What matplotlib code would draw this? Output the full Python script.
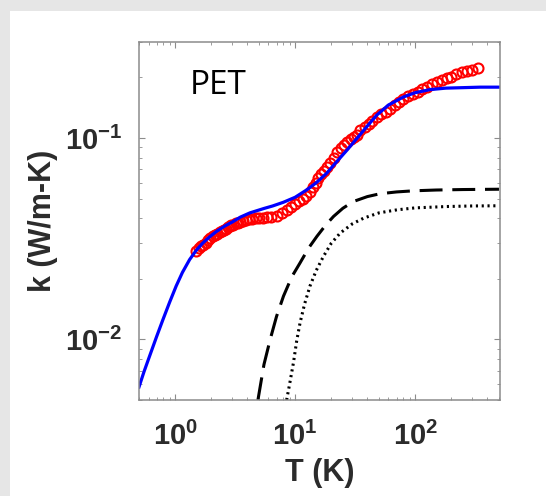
import matplotlib
matplotlib.use("Agg")
import matplotlib.pyplot as plt
from matplotlib.patches import Rectangle

# measured data (red circles)
T_meas = [1.50, 1.58, 1.65, 1.72, 1.80, 1.88, 1.95, 2.05, 2.15, 2.25, 2.35, 2.45,
          2.55, 2.65, 2.75, 2.85, 2.95, 3.05, 3.2, 3.35, 3.5, 3.7, 3.9, 4.1, 4.4,
          4.7, 5.0, 5.4, 5.8, 6.3, 7.0, 7.8, 8.5, 9.2, 10.0, 10.8, 11.6, 12.4,
          13.2, 14.0, 14.8, 15.6, 16.5, 17.5, 18.5, 19.6, 21, 22.5, 24, 25.5, 27,
          29, 31, 33, 35, 38, 41, 44, 48, 52, 57, 62, 68, 74, 80, 88, 96, 105,
          115, 126, 138, 152, 167, 183, 200, 220, 245, 270, 300, 335]
k_meas = [0.0275, 0.0285, 0.0290, 0.0295, 0.0302, 0.0310, 0.0318, 0.0325, 0.0330,
          0.0335, 0.0340, 0.0345, 0.0350, 0.0355, 0.0360, 0.0365, 0.0370, 0.0372,
          0.0378, 0.0380, 0.0385, 0.0388, 0.0392, 0.0395, 0.0398, 0.0400, 0.0402,
          0.0403, 0.0405, 0.0406, 0.0410, 0.0425, 0.0440, 0.0452, 0.0470, 0.0485,
          0.0500, 0.0515, 0.0540, 0.0570, 0.0600, 0.0630, 0.0660, 0.0690, 0.0720,
          0.0750, 0.0800, 0.0850, 0.0890, 0.0920, 0.0960, 0.0990, 0.1010, 0.1040,
          0.1100, 0.1140, 0.1180, 0.1220, 0.1270, 0.1310, 0.1350, 0.1400, 0.1460,
          0.1510, 0.1560, 0.1610, 0.1660, 0.1700, 0.1760, 0.1800, 0.1850, 0.1900,
          0.1940, 0.1980, 0.2020, 0.2070, 0.2120, 0.2150, 0.2180, 0.2220]

# total model (blue)
T_fit = [0.50, 0.55, 0.61, 0.70, 0.79, 0.90, 1.02, 1.15, 1.32, 1.50, 1.70, 1.95,
         2.2, 2.6, 3.0, 3.5, 4.2, 5.5, 6.5, 8.0, 10.0, 12.5, 15.0, 18.3, 22.3, 27,
         32.7, 39.6, 47.9, 60, 80, 100, 133, 180, 252, 350, 500]
k_fit = [0.0058, 0.0069, 0.0082, 0.0103, 0.0125, 0.0153, 0.0184, 0.0215, 0.0249,
         0.0277, 0.0301, 0.0324, 0.0343, 0.0366, 0.0383, 0.0405, 0.0425, 0.0447,
         0.0460, 0.0480, 0.0508, 0.0553, 0.0600, 0.0668, 0.0765, 0.0870, 0.0995,
         0.1140, 0.1300, 0.1460, 0.1600, 0.1680, 0.1740, 0.1770, 0.1780, 0.1790,
         0.1790]

# dashed contribution
T_dash = [4.9, 5.5, 6.2, 7.0, 8.0, 9.4, 11, 13, 15.2, 18, 20.9, 25, 30.6, 40, 51,
          70, 97, 150, 250, 500]
k_dash = [0.0050, 0.0075, 0.0100, 0.0130, 0.0164, 0.0205, 0.0240, 0.0285, 0.0325,
          0.0370, 0.0408, 0.0448, 0.0484, 0.0512, 0.0529, 0.0540, 0.0547, 0.0552,
          0.0555, 0.0557]

# dotted contribution
T_dot = [8.5, 9.0, 9.7, 10.3, 11, 12, 13.3, 15, 17.2, 20, 23.7, 30, 37.2, 50,
         70.5, 100, 183, 300, 500]
k_dot = [0.0050, 0.0060, 0.0077, 0.0098, 0.0121, 0.0150, 0.0184, 0.0220, 0.0258,
         0.0300, 0.0337, 0.0375, 0.0400, 0.0425, 0.0440, 0.0450, 0.0457, 0.0460,
         0.0461]

fig = plt.figure(figsize=(5.46, 4.96), dpi=100)
fig.patch.set_facecolor("#e6e6e6")
fig.patches.append(Rectangle((10 / 546, 0), 1, (496 - 11) / 496,
                             transform=fig.transFigure, facecolor="white",
                             edgecolor="none", zorder=-10))

ax = fig.add_axes([139 / 546, 1 - 400 / 496, 361 / 546, 358 / 496])
ax.set_xscale("log")
ax.set_yscale("log")

ax.plot(T_dash, k_dash, color="black", lw=2.2, dashes=(7.5, 3.2))
ax.plot(T_dot, k_dot, color="black", lw=2.2, linestyle=(0, (0.7, 1.2)))
ax.plot(T_meas, k_meas, "o", mfc="none", mec="red", mew=1.5, ms=7.2)
ax.plot(T_fit, k_fit, color="blue", lw=2.3)

ax.set_xlim(0.5, 510)
ax.set_ylim(0.005, 0.3)

ax.text(0.14, 0.855, "PET", transform=ax.transAxes, fontsize=24,
        family="Open Sans", color="black")

for s in ax.spines.values():
    s.set_color("#8c8c8c")
    s.set_linewidth(1.1)
ax.tick_params(which="both", direction="in", top=True, right=True,
               colors="#8c8c8c", labelcolor="#2b2b2b")
ax.tick_params(which="major", length=4, width=0.8)
ax.tick_params(which="minor", length=2, width=0.6)
ax.tick_params(axis="x", pad=16)
ax.tick_params(axis="y", pad=12)
for lab in ax.get_xticklabels() + ax.get_yticklabels():
    lab.set_fontfamily("Liberation Sans")
    lab.set_fontweight("bold")
    lab.set_fontsize(21)

ax.set_xlabel("T (K)", fontsize=22, fontweight="bold", family="Liberation Sans",
              color="#2b2b2b", labelpad=5)
ax.set_ylabel("k (W/m-K)", fontsize=22, fontweight="bold", family="Liberation Sans",
              color="#2b2b2b", labelpad=5)

fig.savefig("out.png", dpi=100, facecolor=fig.get_facecolor())
